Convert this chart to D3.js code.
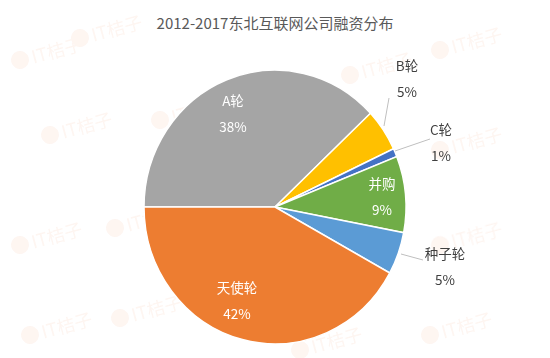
<!DOCTYPE html>
<html><head><meta charset="utf-8">
<script src="https://cdn.jsdelivr.net/npm/d3@7/dist/d3.min.js"></script>
<style>body{margin:0;background:#fff;font-family:"Noto Sans CJK SC","Noto Sans",sans-serif;}</style>
</head><body><svg id="c" width="550" height="358"></svg>
<script>
const categories = ["A轮","B轮","C轮","并购","种子轮","天使轮"];
const values = [38,5,1,9,5,42];
const colors = ["#A5A5A5","#FFC000","#4472C4","#70AD47","#5B9BD5","#ED7D31"];
const title = "2012-2017东北互联网公司融资分布";

const svg = d3.select("#c");
svg.append("text").attr("x",275).attr("y",29).attr("text-anchor","middle")
  .attr("font-size",15).attr("fill","#595959").text(title);

// faint watermarks
const wm = [[20,60],[80,38],[350,75],[440,50],[50,135],[160,120],[440,150],[20,245],[115,228],[440,245],[30,335],[120,318],[300,350],[430,335]];
const wg = svg.append("g").attr("opacity",0.06);
wm.forEach(([x,y])=>{
  const g = wg.append("g").attr("transform",`translate(${x},${y}) rotate(-15)`);
  g.append("circle").attr("r",9).attr("fill","#E8601C");
  g.append("text").attr("x",12).attr("y",7).attr("font-size",18).attr("fill","#E8601C").text("IT桔子");
});

const cx=275, cy=207, r=131;
const pie = d3.pie().sort(null).value(d=>d).startAngle(-Math.PI/2).endAngle(1.5*Math.PI);
const arcs = pie(values);
const arc = d3.arc().innerRadius(0).outerRadius(r);
const g = svg.append("g").attr("transform",`translate(${cx},${cy}) scale(1,1.045)`);
g.selectAll("path").data(arcs).join("path").attr("d",arc)
  .attr("fill",(d,i)=>colors[i]).attr("stroke","#fff").attr("stroke-width",1.5);

// labels: inside for large slices, outside for small
const inside = {0:[233,101],3:[382,184],5:[237,288]};
const outside = {1:[407,66],2:[441,130],4:[445,254]};
const leaders = {1:[[389,98],[384,126]],2:[[430,139],[395,151]],4:[[423,260],[401,254]]};
const lg = svg.append("g");
arcs.forEach((d,i)=>{
  let pos, fill;
  if(inside[i]){pos=inside[i]; fill="#fff";} else {pos=outside[i]; fill="#404040";}
  lg.append("text").attr("x",pos[0]).attr("y",pos[1]+5).attr("text-anchor","middle")
    .attr("font-size",13.5).attr("fill",fill).text(categories[i]);
  lg.append("text").attr("x",pos[0]).attr("y",pos[1]+31).attr("text-anchor","middle")
    .attr("font-size",13.5).attr("fill",fill).text(values[i]+"%");
  if(leaders[i]){
    lg.append("polyline").attr("points",leaders[i].map(p=>p.join(",")).join(" "))
      .attr("fill","none").attr("stroke","#BFBFBF").attr("stroke-width",1);
  }
});
</script></body></html>
